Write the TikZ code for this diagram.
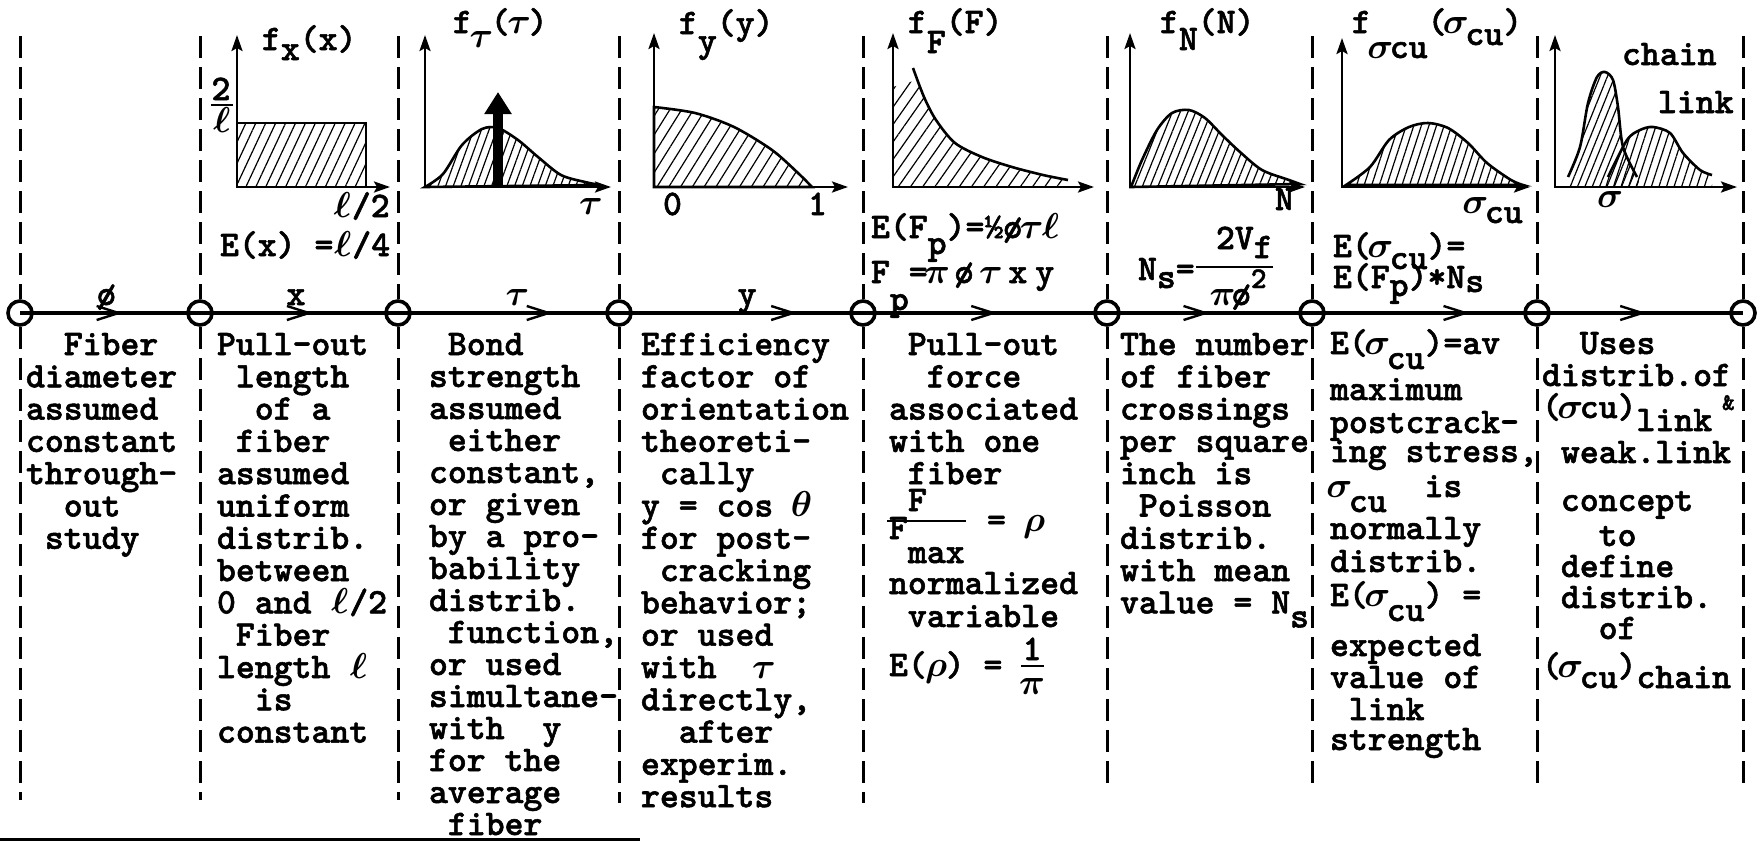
\RequirePackage{fix-cm}
\documentclass[tikz,border=0pt]{standalone}
\usepackage{fontspec}
\newfontfamily\twf{lmmonolt10-bold.otf}[RawFeature={embolden=1.5}]
\usetikzlibrary{arrows.meta,decorations.markings,patterns.meta}
\newcommand\gsig{\makebox[0.525em]{$\sigma$}}
\newcommand\gtau{\makebox[0.525em]{$\tau$}}
\newcommand\grho{\makebox[0.525em]{$\rho$}}
\newcommand\gpi{\makebox[0.525em]{$\pi$}}
\newcommand\gth{\makebox[0.525em]{$\theta$}}
\newcommand\gell{\makebox[0.525em]{$\ell$}}
\newcommand\lowr[2]{\raisebox{-#1}{#2}}
\tikzset{
  txt/.style={font=\fontsize{18}{16}\twf\boldmath, anchor=base west, inner sep=0pt, outer sep=0pt},
  ctxt/.style={txt, anchor=base},
  elbl/.style={txt, anchor=base, yshift=4pt},
  ring/.style={circle, draw, line width=1.8pt, minimum size=12pt, inner sep=0pt},
  mainln/.style={line width=2.1pt},
  dashln/.style={line width=1.5pt, dash pattern=on 11pt off 4.5pt},
  axes/.style={line width=1.3pt, {Stealth[length=8pt,width=5.5pt,inset=1.5pt]}-{Stealth[length=8pt,width=5.5pt,inset=1.5pt]}},
  crv/.style={line width=1.3pt},
  hatch/.style 2 args={pattern={Lines[angle=#1,distance=#2,line width=0.6pt]}},
  midarr/.style={postaction={decorate}, decoration={markings, mark=at position #1 with {\arrow{Straight Barb[length=11pt,width=7pt,line width=1.2pt]}}}},
  fbar/.style={line width=1.3pt}
}
\begin{document}
\begin{tikzpicture}[x=0.5pt,y=-0.5pt]
\useasboundingbox (0,0) rectangle (1762,842);

% ---- stations on the main line
\foreach \i/\x in {0/20,1/200,2/398,3/619,4/863,5/1107,6/1312,7/1537,8/1743}
  \node[ring] (n\i) at (\x,313) {};
% ---- dashed column dividers
\foreach \i/\x/\b in {0/20/800,1/200/800,2/398/800,3/619/803,4/863/803,5/1107/788,6/1312/788,7/1537/788,8/1743/788}{
  \draw[dashln] (\x,36) -- (n\i.north);
  \draw[dashln] (n\i.south) -- (\x,\b);
}
% ---- main line
\draw[mainln, midarr=0.57] (n0.center) -- node[elbl, pos=0.48] (e0) {ø} (n1.center);
\draw[mainln, midarr=0.57] (n1.center) -- node[elbl, pos=0.485] (e1) {x} (n2.center);
\draw[mainln, midarr=0.70] (n2.center) -- node[elbl, pos=0.54] (e2) {\gtau} (n3.center);
\draw[mainln, midarr=0.73] (n3.center) -- node[elbl, pos=0.525] (e3) {y} (n4.center);
\draw[mainln, midarr=0.55] (n4.center) -- (n5.center);
\draw[mainln, midarr=0.50] (n5.center) -- (n6.center);
\draw[mainln, midarr=0.70] (n6.center) -- (n7.center);
\draw[mainln, midarr=0.53] (n7.center) -- (n8.center);
% bottom edge line
\draw[line width=1.5pt] (0,839) -- (640,839);

% ---- panel 1 : f_x(x)
\draw[crv, hatch={65}{4.5pt}] (237,187) rectangle (366,123);
\draw[axes] (237,35) -- (237,187) -- (390,187);
\node[txt] (tx) at (262,50) {f\lowr{5pt}{x}(x)};
\node[ctxt] (l2) at (221,100) {2};
\draw[fbar] (211,105) -- (233,105);
\node[ctxt] (lell) at (222,132) {\gell};
\node[txt] (lhalf) at (333,217) {\gell/2};
\node[txt] (Ex) at (220,256) {E(x)~=\gell/4};

% ---- panel 2 : f_tau
\draw[crv, hatch={70}{3.6pt}] plot[smooth] coordinates {(425,187)(443,174)(462,145)(482,129)(498,128)(518,140)(538,157)(561,175)(585,182)(600,185)} -- cycle;
\draw[axes] (425,35) -- (425,187) -- (611,187);
\draw[line width=5pt, -{Triangle[length=11pt,width=13pt]}] (498,187) -- (498,92);
\node[txt] (ttau) at (453,33) {f\lowr{7pt}{\gtau}(\gtau)};
\node[ctxt] (ltau) at (591,214) {\gtau};

% ---- panel 3 : f_y
\draw[crv, hatch={58}{5pt}] plot[smooth] coordinates {(654,107)(695,113)(734,127)(772,150)(798,173)(812,187)} -- (654,187) -- cycle;
\draw[axes] (654,33) -- (654,187) -- (848,187);
\node[txt] (ty) at (679,34) {f\lowr{9pt}{y}(y)};
\node[txt] (l0) at (663,215) {0};
\node[txt] (l1) at (808,215) {1};

% ---- panel 4 : f_F
\fill[hatch={55}{5pt}] (893,187) -- (893,87) -- plot[smooth] coordinates {(917,80)(924,97)(936,120)(955,143)(982,157)(1012,167)(1043,175)(1068,180)} -- (1068,187) -- cycle;
\draw[crv] plot[smooth] coordinates {(913,68)(924,97)(936,120)(955,143)(982,157)(1012,167)(1043,175)(1068,180)};
\draw[axes] (893,33) -- (893,187) -- (1094,187);
\node[txt] (tF) at (908,33) {f\lowr{10pt}{F}(F)};
\node[txt] (EFp) at (871,238) {E(F\lowr{8pt}{p})=½ø\gtau\gell};
\node[txt] (Fp) at (871,283) {F\lowr{13.5pt}{p}=\gpi\hspace{4pt}ø\hspace{4pt}\gtau\hspace{4pt}x\hspace{4pt}y};

% ---- panel 5 : f_N
\draw[crv, hatch={68}{3.6pt}] plot[smooth] coordinates {(1131,187)(1142,160)(1157,130)(1172,113)(1189,110)(1205,118)(1222,135)(1240,152)(1262,170)(1289,180)(1300,184)} -- cycle;
\draw[axes] (1130,33) -- (1130,187) -- (1305,187);
\node[txt] (tN) at (1160,33) {f\lowr{8.5pt}{N}(N)};
\node[txt] (lN) at (1275,210) {N};
\node[txt] (Ns) at (1138,280) {N\lowr{4pt}{s}=};
\draw[fbar] (1196,267) -- (1273,267);
\node[txt] (Nnum) at (1216,249) {2V\lowr{4.5pt}{f}};
\node[txt] (Nden) at (1213,305) {\gpi ø\raisebox{8.5pt}{\fontsize{15}{15}\selectfont 2}};

% ---- panel 6 : f_sigma_cu
\draw[crv, hatch={72}{3.6pt}] plot[smooth] coordinates {(1346,185)(1370,167)(1389,140)(1409,127)(1428,123)(1448,128)(1468,143)(1487,163)(1511,180)(1523,185)} -- cycle;
\draw[axes] (1342,38) -- (1342,187) -- (1530,187);
\node[txt] (ts) at (1352,33) {f\lowr{12.5pt}{\gsig cu}(\gsig\lowr{6pt}{cu})};
\node[txt] (lsc) at (1466,213) {\gsig\lowr{5pt}{cu}};
\node[txt] (Esc) at (1333,257) {E(\gsig\lowr{6pt}{cu})=};
\node[txt] (EFN) at (1333,288) {E(F\lowr{4pt}{p})*N\lowr{2pt}{s}};

% ---- panel 7 : chain / link
\fill[hatch={68}{3.4pt}] (1565,187) -- plot[smooth] coordinates {(1568,177)(1580,147)(1588,103)(1597,77)(1605,72)(1613,80)(1618,107)(1623,147)(1637,177)} -- (1641,187) -- cycle;
\fill[hatch={72}{3.6pt}] (1605,187) -- plot[smooth] coordinates {(1608,177)(1627,140)(1640,130)(1653,127)(1670,133)(1683,153)(1700,170)(1712,175)} -- (1712,187) -- cycle;
\draw[crv] plot[smooth] coordinates {(1568,177)(1580,147)(1588,103)(1597,77)(1605,72)(1613,80)(1618,107)(1623,147)(1637,177)};
\draw[crv] plot[smooth] coordinates {(1608,177)(1627,140)(1640,130)(1653,127)(1670,133)(1683,153)(1700,170)(1712,175)};
\draw[axes] (1555,35) -- (1555,187) -- (1737,187);
\node[ctxt] (lsig) at (1610,207) {\gsig};
\node[txt] (lchain) at (1622,65) {chain};
\node[txt] (llink) at (1658,113) {link};

% ---- column texts
\foreach [count=\i from 0] \t in {{~~Fiber},{diameter},{assumed},{constant},{through-},{~~out},{~study}}
  \node[txt] (a\i) at (26,{355+32.3*\i}) {\t};
\foreach [count=\i from 0] \t in {{Pull-out},{~length},{~~of a},{~fiber},{assumed},{uniform},{distrib.},{between},{0 and \gell/2},{~Fiber},{length~\gell},{~~is},{constant}}
  \node[txt] (b\i) at (217,{355+32.3*\i}) {\t};
\foreach [count=\i from 0] \t in {{~Bond},{strength},{assumed},{~either},{constant,},{or given},{by a pro-},{bability},{distrib.},{~function,},{or used},{simultane-},{with~~y},{for the},{average},{~fiber}}
  \node[txt] (c\i) at (429,{355+32.0*\i}) {\t};
\foreach [count=\i from 0] \t in {{Efficiency},{factor of},{orientation},{theoreti-},{~cally},{y = cos \gth},{for post-},{~cracking},{behavior;},{or used},{with~~\gtau},{directly,},{~~after},{experim.},{results}}
  \node[txt] (d\i) at (641,{355+32.3*\i}) {\t};
\foreach [count=\i from 0] \t in {{~Pull-out},{~~force},{associated},{with one},{~fiber}}
  \node[txt] (p\i) at (889,{355+32.3*\i}) {\t};
\node[txt] (fnum) at (908,511) {F};
\draw[fbar] (887,521) -- (966,521);
\node[txt] (fden) at (889,539) {F\lowr{12pt}{max}};
\node[txt] (feq) at (987,531) {=~\grho};
\node[txt] (p5) at (889,594) {normalized};
\node[txt] (p6) at (889,627) {~variable};
\node[txt] (p7) at (889,676) {E(\grho)~=};
\node[ctxt] (pone) at (1032,660) {1};
\draw[fbar] (1021,666) -- (1044,666);
\node[ctxt] (ppi) at (1032,694) {\gpi};
\foreach [count=\i from 0] \t in {{The number},{of fiber},{crossings},{per square},{inch is},{~Poisson},{distrib.},{with mean},{value = N\lowr{7pt}{s}}}
  \node[txt] (g\i) at (1120,{355+32.3*\i}) {\t};
\foreach [count=\i] \y/\t in {354/{E(\gsig\lowr{7.5pt}{cu})=av},400/{maximum},433/{postcrack-},462/{ing stress,},497/{\gsig\lowr{7.5pt}{cu}~~is},539/{normally},572/{distrib.},606/{E(\gsig\lowr{7.5pt}{cu})~=},656/{expected},688/{value of},720/{~link},750/{strength}}
  \node[txt] (h\i) at (1330,\y) {\t};
\foreach [count=\i] \y/\t in {354/{~~Uses},386/{distrib.of},418/{(\gsig cu)\lowr{6.5pt}{link}\hspace{5pt}\raisebox{4pt}{\fontsize{12}{12}\selectfont\&}},463/{~weak.link},511/{~concept},546/{~~~to},577/{~define},608/{~distrib.},639/{~~~of},677/{(\gsig\lowr{5.5pt}{cu})\lowr{5.5pt}{chain}}}
  \node[txt] (k\i) at (1542,\y) {\t};
\end{tikzpicture}
\end{document}
